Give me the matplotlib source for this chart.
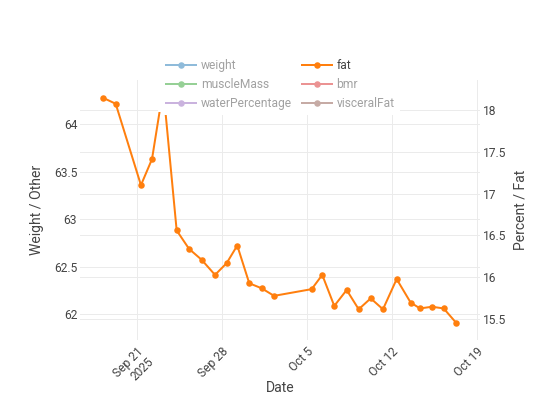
import matplotlib
matplotlib.use("Agg")
import matplotlib.pyplot as plt
from matplotlib.lines import Line2D
from matplotlib.patches import Rectangle
import pandas as pd

# ---- data ----
dates = ["2025-09-18 06:00", "2025-09-19 06:30", "2025-09-21 08:24", "2025-09-22 06:15",
         "2025-09-23 04:30", "2025-09-24 07:00", "2025-09-25 07:30", "2025-09-26 08:24",
         "2025-09-27 10:48", "2025-09-28 09:50", "2025-09-29 06:45", "2025-09-30 06:30",
         "2025-10-01 07:00", "2025-10-02 07:30", "2025-10-05 09:50", "2025-10-06 06:45",
         "2025-10-07 06:30", "2025-10-08 07:00", "2025-10-09 06:45", "2025-10-10 06:30",
         "2025-10-11 06:45", "2025-10-12 09:50", "2025-10-13 13:26", "2025-10-14 08:00",
         "2025-10-15 07:40", "2025-10-16 06:45", "2025-10-17 07:12"]
fat = [18.14, 18.07, 17.10, 17.41, 18.25, 16.56, 16.34, 16.21, 16.03, 16.17, 16.38,
       15.93, 15.87, 15.78, 15.86, 16.03, 15.66, 15.85, 15.62, 15.75, 15.62, 15.98,
       15.70, 15.63, 15.65, 15.63, 15.46]

legend_names = ["weight", "fat", "muscleMass", "bmr", "waterPercentage", "visceralFat"]
legend_colors = ["#1f77b4", "#ff7f0e", "#2ca02c", "#d62728", "#9467bd", "#8c564b"]
legend_visible = [False, True, False, False, False, False]

left_ticks = [62, 62.5, 63, 63.5, 64]
right_ticks = [15.5, 16, 16.5, 17, 17.5, 18]
x_ticks = ["2025-09-21", "2025-09-28", "2025-10-05", "2025-10-12", "2025-10-19"]
x_ticklabels = ["Sep 21\n2025", "Sep 28", "Oct 5", "Oct 12", "Oct 19"]

# ---- style ----
plt.rcParams['font.family'] = ['Roboto', 'DejaVu Sans']
TXT = "#444444"
GRID = "#ebebeb"
PX = 0.72  # points per pixel at dpi 100

fig = plt.figure(figsize=(5.6, 4.2), dpi=100)
ax = fig.add_axes([80/560, 80/420, 400/560, 260/420])
ax2 = ax.twinx()

x = pd.to_datetime(dates)
ax2.plot(x, fat, color="#ff7f0e", linewidth=2*PX, marker="o",
         markersize=6.5*PX, markeredgewidth=0, zorder=3)

ax.set_xlim(pd.Timestamp("2025-09-21") - pd.Timedelta(days=4.669),
            pd.Timestamp("2025-10-19") + pd.Timedelta(days=0.272))
ax.set_ylim(61.729, 64.466)
ax2.set_ylim(15.2536, 18.3536)

ax.set_xticks(pd.to_datetime(x_ticks))
ax.set_xticklabels(x_ticklabels, rotation=45, ha="right", va="top",
                   rotation_mode="anchor")
ax.set_yticks(left_ticks)
ax.set_yticklabels([f"{v:g}" for v in left_ticks])
ax2.set_yticks(right_ticks)
ax2.set_yticklabels([f"{v:g}" for v in right_ticks])

for a in (ax, ax2):
    for s in a.spines.values():
        s.set_visible(False)
    a.tick_params(length=0, labelsize=12*PX, labelcolor=TXT)
ax.tick_params(axis="x", pad=3.5)
ax.tick_params(axis="y", pad=2)
ax2.tick_params(axis="y", pad=2)

ax.grid(True, color=GRID, linewidth=1*PX)
ax2.grid(True, axis="y", color=GRID, linewidth=1*PX)
ax.set_axisbelow(True)
ax2.set_axisbelow(True)

ax.set_xlabel("Date", fontsize=14*PX, color=TXT, va="center")
ax.xaxis.set_label_coords(0.5, -0.183)
ax.set_ylabel("Weight / Other", fontsize=14*PX, color=TXT, va="center")
ax.yaxis.set_label_coords(-0.1075, 0.5)
ax2.set_ylabel("Percent / Fat", fontsize=14*PX, color=TXT, va="center", rotation=90)
ax2.yaxis.set_label_coords(1.1, 0.5)

# ---- legend ----
def fade(c, vis):
    if vis:
        return c
    r, g, b = matplotlib.colors.to_rgb(c)
    return (0.5*r + 0.5, 0.5*g + 0.5, 0.5*b + 0.5)

# white legend background (covers the plot like plotly's legend box)
fig.patches.append(Rectangle((158/560, 1 - 112/420), 241/560, 62/420,
                             transform=fig.transFigure, facecolor="white",
                             edgecolor="none", zorder=2))

handles = [Line2D([], [], color=fade(c, v), linewidth=2*PX, marker="o",
                  markersize=6.5*PX, markeredgewidth=0)
           for c, v in zip(legend_colors, legend_visible)]
order = [0, 2, 4, 1, 3, 5]
leg = fig.legend([handles[i] for i in order], [legend_names[i] for i in order],
                 ncol=2, loc="upper left", bbox_to_anchor=(161/560, 1 - 54/420),
                 fontsize=12*PX, frameon=True, facecolor="white", edgecolor="none",
                 framealpha=1, fancybox=False, handlelength=2.5, handletextpad=0.42,
                 columnspacing=0.8, labelspacing=0.5, borderpad=0.4, borderaxespad=0)
leg.set_zorder(5)
for i, t in zip(order, leg.get_texts()):
    t.set_color(TXT if legend_visible[i] else "#a1a1a1")

fig.savefig("out.png", dpi=100, facecolor="white")
